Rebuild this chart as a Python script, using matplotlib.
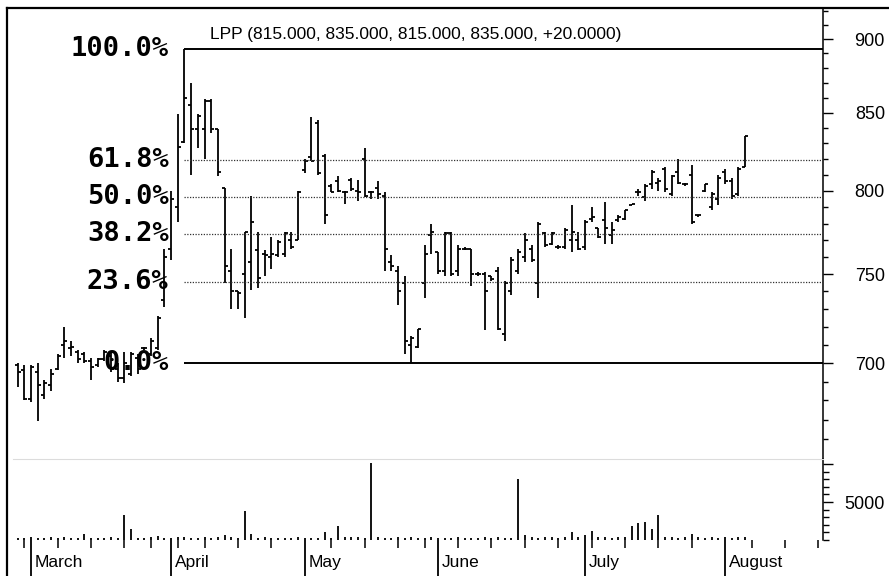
import matplotlib
matplotlib.use('Agg')
import matplotlib.pyplot as plt
from matplotlib.lines import Line2D
from matplotlib.ticker import FixedLocator, FixedFormatter, NullFormatter
from matplotlib.transforms import blended_transform_factory
import numpy as np

plt.rcParams['font.family'] = ['Liberation Sans', 'DejaVu Sans']

# ---------------- data ----------------
opens = [699, 696, 681, 695, 683, 688, 697, 710, 708, 706,
         705, 701, 699, 702, 704, 697, 692, 694, 703, 708,
         705, 708, 735, 765, 790, 831, 855, 839, 839, 858,
         839, 802, 752, 740, 750, 757, 764, 762, 760, 761,
         762, 770, 770, 813, 821, 843, 822, 803, 806, 799,
         807, 800, 820, 799, 802, 797, 757, 752, 745, 710,
         709, 745, 773, 763, 752, 774, 752, 765, 765, 750,
         750, 749, 752, 716, 740, 752, 760, 765, 745, 774,
         768, 766, 766, 770, 770, 766, 783, 777, 782, 773,
         782, 783, 791, 799, 796, 804, 805, 814, 798, 812,
         804, 810, 785, 800, 790, 795, 812, 806, 798, 815]
highs = [700, 699, 699, 700, 691, 697, 705, 720, 712, 707,
         706, 703, 703, 707, 706, 700, 706, 706, 705, 709,
         714, 726, 765, 800, 849, 893, 870, 849, 859, 859,
         839, 802, 765, 740, 775, 797, 775, 764, 772, 770,
         775, 775, 800, 820, 847, 845, 823, 804, 809, 800,
         808, 807, 827, 800, 806, 799, 761, 755, 749, 715,
         719, 767, 780, 763, 775, 775, 767, 766, 765, 751,
         751, 749, 754, 746, 760, 765, 774, 767, 781, 775,
         775, 767, 777, 791, 775, 782, 790, 777, 793, 781,
         785, 788, 792, 801, 804, 813, 808, 815, 810, 820,
         805, 816, 785, 804, 799, 810, 814, 808, 815, 835]
lows = [687, 680, 679, 669, 681, 685, 696, 703, 704, 700,
        700, 691, 698, 701, 695, 690, 689, 693, 694, 707,
        704, 707, 731, 758, 781, 830, 810, 827, 820, 837,
        809, 745, 730, 730, 725, 741, 742, 749, 753, 760,
        760, 765, 770, 811, 819, 810, 780, 799, 799, 792,
        800, 794, 796, 795, 795, 752, 752, 732, 705, 700,
        708, 736, 762, 750, 749, 749, 749, 764, 743, 749,
        718, 746, 718, 712, 738, 750, 757, 757, 736, 766,
        767, 765, 765, 763, 764, 764, 781, 771, 768, 768,
        781, 782, 791, 797, 794, 801, 800, 799, 797, 804,
        803, 780, 784, 799, 788, 791, 804, 795, 797, 815]
closes = [695, 681, 698, 688, 689, 694, 704, 712, 709, 702,
          701, 698, 702, 706, 697, 692, 700, 705, 697, 708,
          712, 725, 760, 795, 828, 860, 839, 848, 858, 839,
          812, 755, 740, 739, 775, 781, 748, 761, 762, 769,
          774, 766, 799, 819, 819, 811, 785, 799, 800, 799,
          801, 799, 797, 799, 798, 765, 755, 740, 712, 714,
          719, 762, 775, 752, 774, 750, 765, 765, 750, 750,
          740, 747, 719, 745, 758, 763, 770, 758, 780, 767,
          774, 766, 776, 775, 765, 781, 784, 772, 777, 776,
          784, 788, 792, 799, 803, 812, 806, 801, 809, 805,
          804, 781, 785, 804, 798, 808, 806, 797, 814, 835]
volumes = [300, 250, 350, 300, 200, 400, 300, 350, 250, 300,
           750, 300, 250, 300, 350, 250, 3300, 1400, 300, 250,
           350, 500, 300, 250, 400, 350, 300, 250, 350, 300,
           400, 600, 400, 250, 3800, 750, 300, 350, 250, 300,
           250, 300, 350, 300, 250, 300, 1000, 300, 1900, 400,
           350, 450, 300, 10100, 350, 300, 250, 400, 300, 350,
           300, 250, 400, 300, 250, 300, 350, 300, 250, 300,
           350, 300, 400, 300, 250, 8000, 700, 400, 300, 450,
           350, 300, 450, 1000, 350, 600, 1200, 350, 400, 300,
           350, 450, 1900, 2200, 2400, 1450, 3300, 350, 400, 300,
           350, 750, 350, 300, 400, 300, 350, 300, 450, 350]

month_names = ['March', 'April', 'May', 'June', 'July', 'August']
month_start = [2, 23, 43, 63, 85, 106]
week_starts = [1, 6, 11, 16, 20, 24, 28, 33, 38, 47, 52, 57, 61, 66, 71,
               76, 81, 86, 91, 96, 101, 110, 115, 120]

fib_ratios = [0.0, 0.236, 0.382, 0.5, 0.618, 1.0]
fib_labels = ['0.0%', '23.6%', '38.2%', '50.0%', '61.8%', '100.0%']
fib_high_idx = 25
fib_low_idx = 59

price_major = [700, 750, 800, 850, 900]
price_major_labels = ['700', '750', '800', '850', '900']
price_minor = list(range(660, 930, 10))
vol_major = [5000, 10000]
vol_major_labels = ['5000', '']
vol_minor = list(range(0, 11000, 1000))

title = 'LPP (815.000, 835.000, 815.000, 835.000, +20.0000)'

# ---------------- figure ----------------
W, H = 889, 576
fig = plt.figure(figsize=(W / 100, H / 100), dpi=100)

def fx(px):
    return px / W

def fy(py):
    return 1 - py / H

L, R = 8, 823
ax = fig.add_axes([fx(L), fy(459), fx(R - L), (459 - 8) / H])
axv = fig.add_axes([fx(L), fy(540), fx(R - L), (540 - 459) / H], sharex=ax)

idx = np.arange(len(opens))
xlim = (-1.446, 120.68)

# price bars
ax.vlines(idx, lows, highs, color='black', lw=1.3)
ax.hlines(opens, idx - 0.45, idx, color='black', lw=1.3)
ax.hlines(closes, idx, idx + 0.45, color='black', lw=1.3)

# fibonacci levels
fib_hi = highs[fib_high_idx]
fib_lo = lows[fib_low_idx]
for r, lab in zip(fib_ratios, fib_labels):
    lvl = fib_lo + r * (fib_hi - fib_lo)
    if r in (0.0, 1.0):
        ax.plot([fib_high_idx, xlim[1]], [lvl, lvl], color='black', lw=1.4,
                solid_capstyle='butt', zorder=3)
    else:
        ax.plot([fib_high_idx, xlim[1]], [lvl, lvl], color='#333333', lw=0.9,
                linestyle=(0, (1.0, 1.2)), zorder=3)
    ax.text(fib_high_idx - 2.35, lvl, lab, ha='right', va='center',
            fontfamily='DejaVu Sans Mono', fontweight='bold', fontsize=19.5,
            color='black', zorder=5)

ax.text(0.5, (459 - 34) / 451, title, transform=ax.transAxes, ha='center',
        va='center', fontsize=12.5, color='black')

ax.set_yscale('log')
ax.set_ylim(649.8, 921.9)
ax.set_xlim(*xlim)
ax.yaxis.tick_right()
ax.yaxis.set_major_locator(FixedLocator(price_major))
ax.yaxis.set_major_formatter(FixedFormatter(price_major_labels))
ax.yaxis.set_minor_locator(FixedLocator(price_minor))
ax.yaxis.set_minor_formatter(NullFormatter())
ax.tick_params(axis='y', which='major', direction='out', length=7.2, width=1.0,
               pad=37.4, labelsize=13, right=True, left=False)
ax.tick_params(axis='y', which='minor', direction='out', length=3.6, width=1.0,
               right=True, left=False)
ax.tick_params(axis='x', which='both', bottom=False, top=False, labelbottom=False)
for s in ('top', 'left', 'bottom'):
    ax.spines[s].set_visible(False)
ax.spines['right'].set_linewidth(1.1)
plt.setp(ax.get_yticklabels(), ha='right')

# volume
axv.vlines(idx, 0, volumes, color='black', lw=1.3)
axv.set_ylim(0, 10660)
axv.yaxis.tick_right()
axv.yaxis.set_major_locator(FixedLocator(vol_major))
axv.yaxis.set_major_formatter(FixedFormatter(vol_major_labels))
axv.yaxis.set_minor_locator(FixedLocator(vol_minor))
axv.yaxis.set_minor_formatter(NullFormatter())
axv.tick_params(axis='y', which='major', direction='out', length=7.2, width=1.0,
                pad=37.4, labelsize=13, right=True, left=False)
axv.tick_params(axis='y', which='minor', direction='out', length=4.5, width=1.0,
                right=True, left=False)
plt.setp(axv.get_yticklabels(), ha='right')

axv.xaxis.set_major_locator(FixedLocator(month_start))
axv.xaxis.set_major_formatter(NullFormatter())
axv.xaxis.set_minor_locator(FixedLocator(week_starts))
axv.xaxis.set_minor_formatter(NullFormatter())
axv.tick_params(axis='x', which='major', direction='out', length=26, width=1.3,
                bottom=True, top=False)
axv.tick_params(axis='x', which='minor', direction='out', length=5.8, width=1.1,
                bottom=True, top=False)
for s in ('top', 'left', 'bottom'):
    axv.spines[s].set_visible(False)
axv.spines['right'].set_linewidth(1.1)
axv.set_xlim(*xlim)

btrans = blended_transform_factory(axv.transData, axv.transAxes)
for m, name in zip(month_start, month_names):
    axv.text(m + 0.55, (540 - 567) / 81, name, transform=btrans, ha='left',
             va='baseline', fontsize=12.5, color='black', clip_on=False)

# window frame and panel divider
fig.add_artist(Line2D([fx(7), 1.0], [fy(8.3), fy(8.3)], color='black', lw=1.6,
                      transform=fig.transFigure))
fig.add_artist(Line2D([fx(7), fx(7)], [fy(8.3), 0.0], color='black', lw=1.6,
                      transform=fig.transFigure))
fig.add_artist(Line2D([fx(13), fx(823)], [fy(459), fy(459)], color='#dcdcdc',
                      lw=0.8, transform=fig.transFigure))

fig.savefig('out.png', dpi=100, facecolor='white')
